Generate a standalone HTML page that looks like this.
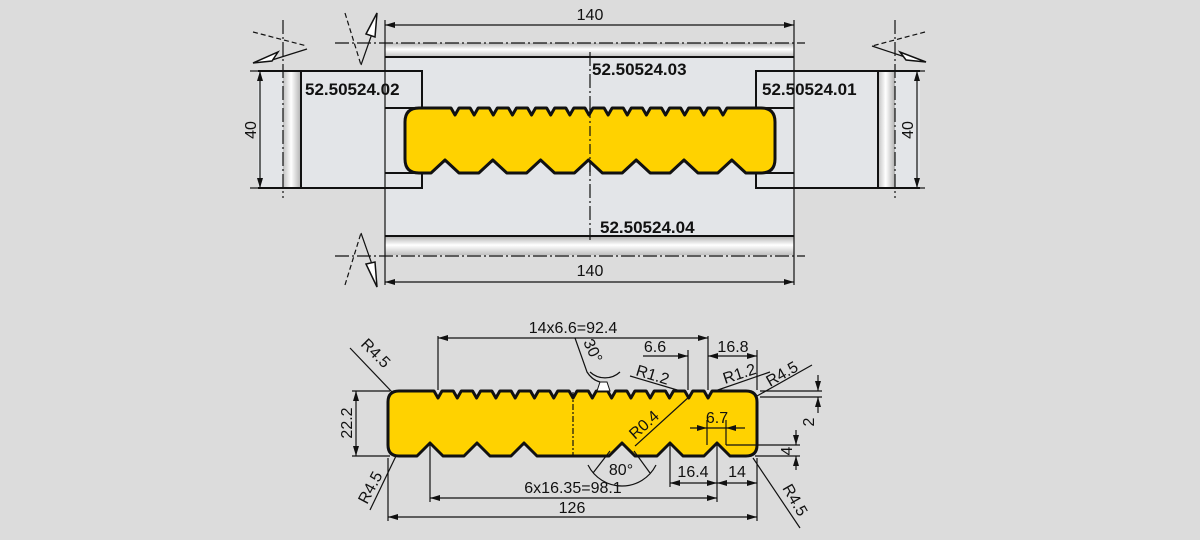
<!DOCTYPE html>
<html><head><meta charset="utf-8"><style>
html,body{margin:0;padding:0;background:#dcdcdc;}
svg{display:block;font-family:"Liberation Sans",sans-serif;}
.b{font-weight:bold;font-size:17px;fill:#111;}
.t{font-size:16px;fill:#111;}
</style></head><body>
<svg width="1200" height="540" viewBox="0 0 1200 540" xmlns="http://www.w3.org/2000/svg">
<defs>
<linearGradient id="hg" x1="0" y1="0" x2="0" y2="1">
<stop offset="0" stop-color="#b8b8b8"/><stop offset="0.45" stop-color="#ffffff"/><stop offset="1" stop-color="#c0c0c0"/></linearGradient>
<linearGradient id="vg" x1="0" y1="0" x2="1" y2="0">
<stop offset="0" stop-color="#c0c0c0"/><stop offset="0.45" stop-color="#ffffff"/><stop offset="1" stop-color="#b0b0b0"/></linearGradient>
<marker id="ar" viewBox="0 0 10 6" refX="10" refY="3" markerWidth="10" markerHeight="6" orient="auto-start-reverse" markerUnits="userSpaceOnUse"><path d="M0,0 L10,3 L0,6 z" fill="#111"/></marker>
</defs>
<rect width="1200" height="540" fill="#dcdcdc"/>

<rect x="385" y="43" width="409" height="212" fill="#e3e5e8"/>
<rect x="385" y="43" width="409" height="14" fill="url(#hg)"/>
<rect x="385" y="237" width="409" height="18" fill="url(#hg)"/>
<rect x="258" y="71" width="164" height="117" fill="#e3e5e8"/>
<rect x="283" y="71" width="18" height="117" fill="url(#vg)"/>
<rect x="756" y="71" width="164" height="117" fill="#e3e5e8"/>
<rect x="878" y="71" width="17" height="117" fill="url(#vg)"/>

<g stroke="#111" fill="none" stroke-width="2">
<line x1="385" y1="57" x2="794" y2="57"/>
<line x1="385" y1="236" x2="794" y2="236"/>
<path d="M258,71 H422 V108 H385 M385,173 H422 V188 H258" />
<path d="M920,71 H756 V108 H794 M794,173 H756 V188 H920"/>
<line x1="301" y1="71" x2="301" y2="188"/>
<line x1="878" y1="71" x2="878" y2="188"/>
</g>
<g stroke="#111" fill="none" stroke-width="1.2">
<line x1="385" y1="20" x2="385" y2="285"/>
<line x1="794" y1="20" x2="794" y2="285"/>
<line x1="385" y1="25" x2="794" y2="25" marker-start="url(#ar)" marker-end="url(#ar)"/>
<line x1="385" y1="282" x2="794" y2="282" marker-start="url(#ar)" marker-end="url(#ar)"/>
<line x1="260" y1="71" x2="260" y2="188" marker-start="url(#ar)" marker-end="url(#ar)"/>
<line x1="917" y1="71" x2="917" y2="188" marker-start="url(#ar)" marker-end="url(#ar)"/>
<line x1="250" y1="71" x2="258" y2="71"/><line x1="250" y1="188" x2="258" y2="188"/>
<line x1="920" y1="71" x2="925" y2="71"/><line x1="920" y1="188" x2="925" y2="188"/>
</g>
<g stroke="#111" fill="none" stroke-width="1.2" stroke-dasharray="14,3,2,3">
<line x1="335" y1="43" x2="805" y2="43"/>
<line x1="335" y1="256" x2="805" y2="256"/>
<line x1="283" y1="20" x2="283" y2="198"/>
<line x1="895" y1="20" x2="895" y2="198"/>
<line x1="590" y1="52" x2="590" y2="240"/>
</g>
<g stroke="#111" fill="none" stroke-width="1.2">
<path d="M253,32 L307,46" stroke-dasharray="5,3"/><path d="M307,49 L272,60"/>
<path d="M345,13 L361,65" stroke-dasharray="5,3"/><path d="M361,65 L374,28"/>
<path d="M345,285 L361,233" stroke-dasharray="5,3"/><path d="M361,233 L374,270"/>
<path d="M925,32 L872,46" stroke-dasharray="5,3"/><path d="M872,46 L905,57"/>
</g>
<g fill="#fff" stroke="#111" stroke-width="1.5">
<path d="M253,63 L278,52 L272,61 z"/>
<path d="M377,13 L375,37 L366,34 z"/>
<path d="M377,287 L366,264 L375,262 z"/>
<path d="M926,62 L900,52 L906,60 z"/>
</g>

<path id="wp1" fill="#ffd200" stroke="#111" stroke-width="3" stroke-linejoin="round"/>
<line x1="590" y1="108" x2="590" y2="173" stroke="#111" stroke-width="1.2" stroke-dasharray="10,3,2,3"/>

<text class="t" x="590" y="20" text-anchor="middle">140</text>
<text class="t" x="590" y="276" text-anchor="middle">140</text>
<text class="t" transform="translate(256,130) rotate(-90)" text-anchor="middle">40</text>
<text class="t" transform="translate(913,130) rotate(-90)" text-anchor="middle">40</text>
<text class="b" x="305" y="95">52.50524.02</text>
<text class="b" x="592" y="75">52.50524.03</text>
<text class="b" x="762" y="95">52.50524.01</text>
<text class="b" x="600" y="233">52.50524.04</text>

<path id="wp2" fill="#ffd200" stroke="#111" stroke-width="3" stroke-linejoin="round"/>
<line x1="573" y1="392" x2="573" y2="456" stroke="#111" stroke-width="1.2" stroke-dasharray="6,2,2,2"/>
<path d="M597,391 L600,382 L607,382 L610,391 z" fill="#fff" stroke="#111" stroke-width="1"/>
<g stroke="#111" fill="none" stroke-width="1.2">
<line x1="438" y1="338" x2="708" y2="338" marker-start="url(#ar)" marker-end="url(#ar)"/>
<line x1="438" y1="336" x2="438" y2="390"/>
<line x1="708" y1="336" x2="708" y2="390"/>
<line x1="643" y1="356" x2="688" y2="356" marker-end="url(#ar)"/>
<line x1="688" y1="350" x2="688" y2="390"/>
<line x1="708" y1="356" x2="757" y2="356" marker-start="url(#ar)" marker-end="url(#ar)"/>
<line x1="757" y1="350" x2="757" y2="390"/>
<path d="M575,338 L587,372 Q592,380 600,382"/>
<path d="M590,372 A22,22 0 0 0 620,372"/>
<line x1="350" y1="348" x2="392" y2="392"/>
<line x1="630" y1="376" x2="684" y2="392"/>
<line x1="712" y1="392" x2="770" y2="372"/>
<line x1="757" y1="396" x2="812" y2="365"/>
<line x1="635" y1="446" x2="690" y2="396"/>
<line x1="690" y1="428" x2="707" y2="428" marker-end="url(#ar)"/>
<line x1="745" y1="428" x2="726" y2="428" marker-end="url(#ar)"/>
<line x1="707" y1="428" x2="726" y2="428"/>
<line x1="707" y1="420" x2="707" y2="445"/>
<line x1="726" y1="420" x2="726" y2="445"/>
<line x1="760" y1="391" x2="822" y2="391"/>
<line x1="760" y1="397" x2="822" y2="397"/>
<line x1="818" y1="375" x2="818" y2="391" marker-end="url(#ar)"/>
<line x1="818" y1="413" x2="818" y2="397" marker-end="url(#ar)"/>
<line x1="726" y1="445" x2="800" y2="445"/>
<line x1="755" y1="456" x2="800" y2="456"/>
<line x1="796" y1="430" x2="796" y2="445" marker-end="url(#ar)"/>
<line x1="796" y1="470" x2="796" y2="456" marker-end="url(#ar)"/>
<line x1="356" y1="391" x2="356" y2="456" marker-start="url(#ar)" marker-end="url(#ar)"/>
<line x1="352" y1="391" x2="390" y2="391"/>
<line x1="352" y1="456" x2="390" y2="456"/>
<line x1="370" y1="510" x2="396" y2="456"/>
<line x1="753" y1="458" x2="800" y2="528"/>
<line x1="670" y1="445" x2="670" y2="487"/>
<line x1="717" y1="445" x2="717" y2="502"/>
<line x1="430" y1="445" x2="430" y2="502"/>
<line x1="757" y1="458" x2="757" y2="521"/>
<line x1="388" y1="458" x2="388" y2="521"/>
<line x1="670" y1="483" x2="717" y2="483" marker-start="url(#ar)" marker-end="url(#ar)"/>
<line x1="717" y1="483" x2="757" y2="483" marker-start="url(#ar)" marker-end="url(#ar)"/>
<line x1="430" y1="498" x2="717" y2="498" marker-start="url(#ar)" marker-end="url(#ar)"/>
<line x1="388" y1="517" x2="757" y2="517" marker-start="url(#ar)" marker-end="url(#ar)"/>
<path d="M588,465 A38,38 0 0 0 656,465"/>
<path d="M593,473 L610,451 M650,473 L634,451"/>
</g>
<text class="t" x="573" y="333" text-anchor="middle">14x6.6=92.4</text>
<text class="t" transform="translate(583,342) rotate(65)">30°</text>
<text class="t" x="655" y="352" text-anchor="middle">6.6</text>
<text class="t" x="733" y="352" text-anchor="middle">16.8</text>
<text class="t" transform="translate(635,375) rotate(17)">R1.2</text>
<text class="t" transform="translate(725,384) rotate(-18)">R1.2</text>
<text class="t" transform="translate(770,387) rotate(-30)">R4.5</text>
<text class="t" transform="translate(360,345) rotate(45)">R4.5</text>
<text class="t" transform="translate(635,440) rotate(-42)">R0.4</text>
<text class="t" x="717" y="423" text-anchor="middle">6.7</text>
<text class="t" transform="translate(814,422) rotate(-90)" text-anchor="middle">2</text>
<text class="t" transform="translate(792,451) rotate(-90)" text-anchor="middle">4</text>
<text class="t" transform="translate(352,423) rotate(-90)" text-anchor="middle">22.2</text>
<text class="t" transform="translate(367,505) rotate(-62)">R4.5</text>
<text class="t" transform="translate(782,488) rotate(60)">R4.5</text>
<text class="t" x="621" y="475" text-anchor="middle">80°</text>
<text class="t" x="693" y="477" text-anchor="middle">16.4</text>
<text class="t" x="737" y="477" text-anchor="middle">14</text>
<text class="t" x="573" y="493" text-anchor="middle">6x16.35=98.1</text>
<text class="t" x="572" y="513" text-anchor="middle">126</text>
</svg>
<script>
function prof(x0,x1,y0,y1,r,tn,w1,d1,bn,w2,d2){
 var p="M"+(x0+r)+","+y0;
 tn.forEach(function(n){p+=" L"+(n-w1)+","+y0+" L"+n+","+(y0+d1)+" L"+(n+w1)+","+y0;});
 p+=" L"+(x1-r)+","+y0+" Q"+x1+","+y0+" "+x1+","+(y0+r)+" L"+x1+","+(y1-r)+" Q"+x1+","+y1+" "+(x1-r)+","+y1;
 bn.slice().reverse().forEach(function(n){p+=" L"+(n+w2)+","+y1+" L"+n+","+(y1-d2)+" L"+(n-w2)+","+y1;});
 p+=" L"+(x0+r)+","+y1+" Q"+x0+","+y1+" "+x0+","+(y1-r)+" L"+x0+","+(y0+r)+" Q"+x0+","+y0+" "+(x0+r)+","+y0+" Z";
 return p;}
var t1=[],b1=[],t2=[],b2=[];
for(var i=0;i<15;i++){t1.push(455+19.14*i);t2.push(438+19.29*i);}
for(var i=0;i<7;i++){b1.push(445+47.8*i);}
[430,477,524,622,670,717].forEach(function(v){b2.push(v);});
document.getElementById("wp1").setAttribute("d",prof(405,775,108,173,14,t1,4,7,b1,14,13));
document.getElementById("wp2").setAttribute("d",prof(388,757,391,456,11,t2,4,7,b2,13,13));
</script>
</body></html>
